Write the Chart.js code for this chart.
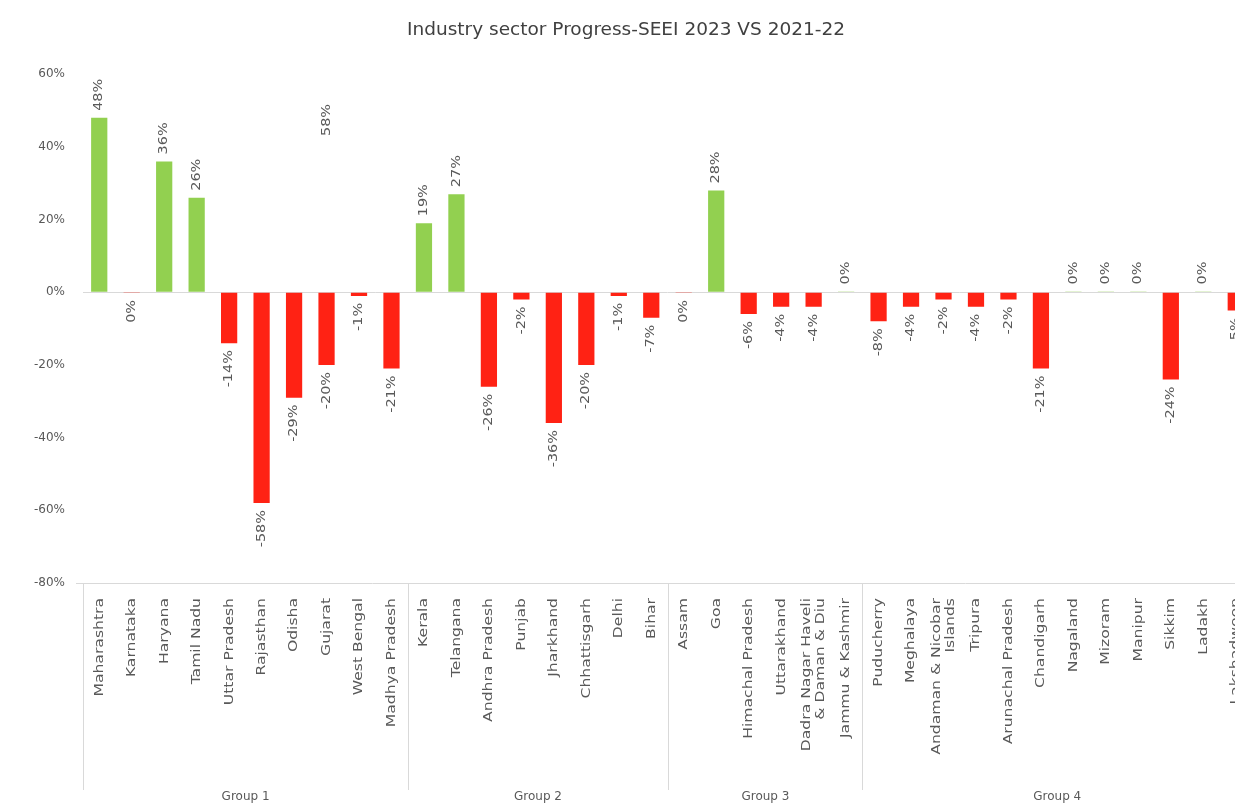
<!DOCTYPE html>
<html>
<head>
<meta charset="utf-8">
<title>Industry sector Progress-SEEI 2023 VS 2021-22</title>
<script src="https://cdn.jsdelivr.net/npm/chart.js@4.4.1/dist/chart.umd.min.js"></script>
<style>
  html, body { margin: 0; padding: 0; background: #fff; overflow: hidden; }
  #wrap { width: 1262px; height: 805px; }
</style>
</head>
<body>
<div id="wrap"><canvas id="progressChart" width="1262" height="805"></canvas></div>
<script>
// States, in chart order
const states = [
    "Maharashtra", "Karnataka", "Haryana", "Tamil Nadu", "Uttar Pradesh", "Rajasthan",
    "Odisha", "Gujarat", "West Bengal", "Madhya Pradesh",
    "Kerala", "Telangana", "Andhra Pradesh", "Punjab", "Jharkhand", "Chhattisgarh", "Delhi", "Bihar",
    "Assam", "Goa", "Himachal Pradesh", "Uttarakhand", ["Dadra Nagar Haveli", "& Daman & Diu"], "Jammu & Kashmir",
    "Puducherry", "Meghalaya", ["Andaman & Nicobar", "Islands"], "Tripura", "Arunachal Pradesh", "Chandigarh",
    "Nagaland", "Mizoram", "Manipur", "Sikkim", "Ladakh", "Lakshadweep"
];

// Change in % (tiny +/- values are the 0% states, sign decides label side)
const progress = [
    48, -0.2, 36, 26, -14, -58, -29, -20, -1, -21,
    19, 27, -26, -2, -36, -20, -1, -7,
    -0.2, 28, -6, -4, -4, 0.2,
    -8, -4, -2, -4, -2, -21,
    0.2, 0.2, 0.2, -24, 0.2, -5
];

// Groups: name and number of states in each
const groupNames = ["Group 1", "Group 2", "Group 3", "Group 4"];
const groupSizes = [10, 8, 6, 12];

// Stray label that sits above Gujarat in the original
const strayLabels = [{ index: 7, value: 43, text: "58%" }];

const yTicks = [-80, -60, -40, -20, 0, 20, 40, 60];

const GREEN = "#92D050";
const RED = "#FF2214";
const GREY_TEXT = "#595959";
const LINE = "#D9D9D9";
const FONT = "'DejaVu Sans', sans-serif";
const STRETCH = 1.2; // the original's text is drawn wide along its reading direction

// draw text rotated -90deg at (x, y), stretched along the reading direction
function vText(ctx, text, x, y, align) {
    ctx.save();
    ctx.translate(x, y);
    ctx.rotate(-Math.PI / 2);
    ctx.scale(STRETCH, 1);
    ctx.textAlign = align;
    ctx.fillText(text, 0, 0);
    ctx.restore();
}

// Value labels, rotated like the Excel original
const barLabels = {
    id: "barLabels",
    afterDatasetsDraw(chart) {
        const ctx = chart.ctx;
        const meta = chart.getDatasetMeta(0);
        const y = chart.scales.y;
        ctx.save();
        ctx.font = `12px ${FONT}`;
        ctx.fillStyle = GREY_TEXT;
        ctx.textBaseline = "middle";
        meta.data.forEach((bar, i) => {
            const v = progress[i];
            const text = `${Math.round(v)}%`;
            if (v >= 0) vText(ctx, text, bar.x, bar.y - 7, "left");
            else vText(ctx, text, bar.x, bar.y + 7, "right");
        });
        strayLabels.forEach((s) => {
            vText(ctx, s.text, meta.data[s.index].x, y.getPixelForValue(s.value), "left");
        });
        ctx.restore();
    },
};

// Category names, group separators and group names under the axis
const groupAxis = {
    id: "groupAxis",
    afterDraw(chart) {
        const ctx = chart.ctx;
        const x = chart.scales.x;
        const area = chart.chartArea;
        const bottom = 790;
        ctx.save();

        // state names
        ctx.font = `13px ${FONT}`;
        ctx.fillStyle = GREY_TEXT;
        ctx.textBaseline = "middle";
        states.forEach((name, i) => {
            const lines = Array.isArray(name) ? name : [name];
            const cx = x.getPixelForValue(i);
            lines.forEach((line, j) => {
                const off = (j - (lines.length - 1) / 2) * 14;
                vText(ctx, line, cx + off, area.bottom + 15, "right");
            });
        });

        ctx.strokeStyle = LINE;
        ctx.lineWidth = 1;
        ctx.beginPath();
        ctx.moveTo(76, area.bottom + 0.5);
        ctx.lineTo(chart.width, area.bottom + 0.5);
        ctx.stroke();

        const half = (x.getPixelForValue(1) - x.getPixelForValue(0)) / 2;
        let start = 0;
        ctx.font = `12px ${FONT}`;
        ctx.textAlign = "center";
        groupSizes.forEach((n, g) => {
            const left = Math.round(x.getPixelForValue(start) - half) + 0.5;
            const right = x.getPixelForValue(start + n - 1) + half;
            ctx.beginPath();
            ctx.moveTo(left, area.bottom);
            ctx.lineTo(left, bottom);
            ctx.stroke();
            ctx.fillText(groupNames[g], (left + right) / 2, 797);
            start += n;
        });
        ctx.restore();
    },
};

const config = {
    type: "bar",
    data: {
        labels: states,
        datasets: [
            {
                label: "Progress",
                data: progress,
                backgroundColor: progress.map((v) => (v >= 0 ? GREEN : RED)),
                borderWidth: 0,
                categoryPercentage: 1,
                barPercentage: 0.5,
            },
        ],
    },
    options: {
        responsive: false,
        animation: false,
        layout: { padding: { top: 0, right: 10, bottom: 0, left: 0 } },
        plugins: {
            legend: { display: false },
            tooltip: { enabled: false },
            title: {
                display: true,
                text: "Industry sector Progress-SEEI 2023 VS 2021-22",
                color: "#404040",
                font: { family: FONT, size: 18.5, weight: "normal" },
                padding: { top: 19, bottom: 33 },
            },
        },
        scales: {
            x: {
                grid: { display: false, drawTicks: false },
                border: { display: false },
                ticks: { display: false },
                afterFit(scale) {
                    scale.height = 222;
                },
            },
            y: {
                min: -80,
                max: 60,
                afterBuildTicks(scale) {
                    scale.ticks = yTicks.map((v) => ({ value: v }));
                },
                grid: {
                    drawTicks: false,
                    color: (c) => (c.tick && c.tick.value === 0 ? LINE : "rgba(0,0,0,0)"),
                },
                border: { display: false },
                ticks: {
                    color: GREY_TEXT,
                    font: { family: FONT, size: 12 },
                    padding: 18,
                    callback: (v) => `${v}%`,
                },
                afterFit(scale) {
                    scale.width = 83;
                },
            },
        },
    },
    plugins: [barLabels, groupAxis],
};

const ctx = document.getElementById("progressChart").getContext("2d");
const progressChart = new Chart(ctx, config);
</script>
</body>
</html>
